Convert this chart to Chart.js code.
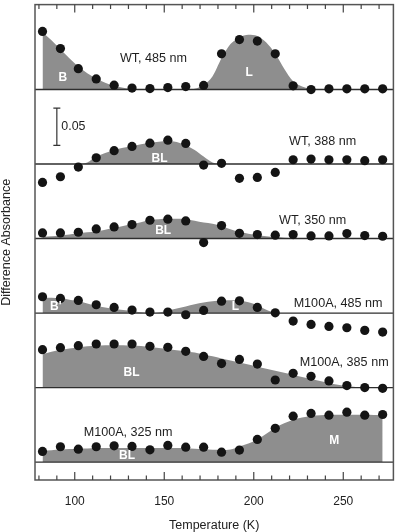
<!DOCTYPE html>
<html>
<head>
<meta charset="utf-8">
<script src="https://cdn.jsdelivr.net/npm/chart.js@4"></script>
<style>
html,body{margin:0;padding:0;background:#fff;}
#wrap{width:398px;height:532px;position:relative;}
</style>
</head>
<body>
<div id="wrap"><canvas id="c"></canvas></div>
<script>
// ---- data ----
const temps = [82, 92, 102, 112, 122, 132, 142, 152, 162, 172, 182, 192, 202, 212, 222, 232, 242, 252, 262, 272];
const seriesNames = ['WT, 485 nm', 'WT, 388 nm', 'WT, 350 nm', 'M100A, 485 nm', 'M100A, 385 nm', 'M100A, 325 nm'];
const offsets = [0.5, 0.4, 0.3, 0.2, 0.1, 0];

const wt485 = [0.078, 0.055, 0.028, 0.0143, 0.0058, 0.002, 0.0013, 0.0027, 0.004, 0.0055, 0.048, 0.067, 0.065, 0.048, 0.005, 0.0, 0.001, 0.001, 0.001, 0.001];
const wt388 = [-0.0246, -0.017, -0.004, 0.0085, 0.0179, 0.0237, 0.028, 0.032, 0.0277, -0.0013, 0.001, -0.0192, -0.0179, -0.0112, 0.0058, 0.0067, 0.0058, 0.0058, 0.0045, 0.0058];
const wt350 = [0.0076, 0.0076, 0.0085, 0.013, 0.0156, 0.0188, 0.0246, 0.026, 0.0237, -0.0054, 0.0174, 0.0071, 0.0054, 0.0045, 0.0054, 0.0036, 0.0036, 0.0067, 0.004, 0.0031];
const m485 = [0.0219, 0.0197, 0.017, 0.0112, 0.0076, 0.004, 0.0013, 0.0013, -0.0022, 0.0036, 0.016, 0.0165, 0.0076, 0.0004, -0.0107, -0.0152, -0.0179, -0.0197, -0.0232, -0.0255];
const m385 = [0.0509, 0.0536, 0.0563, 0.0585, 0.0585, 0.0585, 0.0554, 0.054, 0.0487, 0.0418, 0.0322, 0.0378, 0.0316, 0.0102, 0.0191, 0.0151, 0.009, 0.0027, 0.0, -0.001];
const m325 = [0.0143, 0.0206, 0.0174, 0.0206, 0.0219, 0.021, 0.0165, 0.0224, 0.0201, 0.0201, 0.0134, 0.0161, 0.0304, 0.0453, 0.0617, 0.0653, 0.063, 0.067, 0.063, 0.0639];

// fitted (shaded) curves, sampled every 5 K
const curveTemps = [82, 87, 92, 97, 102, 107, 112, 117, 122, 127, 132, 137, 142, 147, 152, 157, 162, 167, 172, 177, 182, 187, 192, 197, 202, 207, 212, 217, 222, 227, 232, 237, 242, 247, 252, 257, 262, 267, 272];
const fitWt485 = [0.077, 0.066, 0.054, 0.042, 0.031, 0.022, 0.015, 0.009, 0.005, 0.0025, 0.001, 0.0003, 0, 0, 0, 0, 0, 0.001, 0.006, 0.018, 0.042, 0.061, 0.070, 0.0735, 0.072, 0.063, 0.048, 0.028, 0.011, 0.004, 0.001, 0, 0, 0, 0, 0, 0, 0, 0];
const fitWt388 = [0, 0, 0, 0, 0, 0.002, 0.010, 0.015, 0.019, 0.022, 0.024, 0.0265, 0.0285, 0.030, 0.031, 0.0295, 0.025, 0.019, 0.010, 0.002, 0, 0, 0, 0, 0, 0, 0, 0, 0, 0, 0, 0, 0, 0, 0, 0, 0, 0, 0];
const fitWt350 = [0.002, 0.003, 0.004, 0.0055, 0.007, 0.0085, 0.0095, 0.012, 0.0145, 0.017, 0.0195, 0.022, 0.025, 0.026, 0.0265, 0.0265, 0.026, 0.024, 0.0215, 0.020, 0.017, 0.0125, 0.009, 0.0065, 0.0045, 0.003, 0.002, 0.0012, 0.0006, 0.0002, 0, 0, 0, 0, 0, 0, 0, 0, 0];
const fitM485 = [0.0205, 0.0205, 0.0198, 0.018, 0.016, 0.013, 0.010, 0.0075, 0.0055, 0.0042, 0.0025, 0.001, 0, 0.0008, 0.0033, 0.006, 0.0088, 0.0118, 0.0142, 0.0158, 0.0168, 0.0173, 0.0168, 0.0145, 0.0105, 0.0045, 0.0005, 0, 0, 0, 0, 0, 0, 0, 0, 0, 0, 0, 0];
const fitM385 = [0.0445, 0.048, 0.0505, 0.0525, 0.0543, 0.0555, 0.0563, 0.0568, 0.057, 0.057, 0.0565, 0.0558, 0.0545, 0.053, 0.0515, 0.050, 0.0485, 0.047, 0.0445, 0.042, 0.039, 0.0363, 0.0336, 0.031, 0.028, 0.0253, 0.0226, 0.020, 0.017, 0.0143, 0.0116, 0.0088, 0.006, 0.0038, 0.002, 0.0008, 0.0002, 0, 0];
const fitM325 = [0.0155, 0.016, 0.0168, 0.0175, 0.018, 0.0183, 0.0186, 0.0188, 0.019, 0.019, 0.019, 0.019, 0.019, 0.019, 0.019, 0.0188, 0.0185, 0.018, 0.0172, 0.0165, 0.0163, 0.017, 0.021, 0.025, 0.0305, 0.038, 0.046, 0.052, 0.057, 0.060, 0.062, 0.0628, 0.0632, 0.0634, 0.0635, 0.0635, 0.0634, 0.0633, 0.0632];

const xTickLabels = [100, 150, 200, 250];
const xMinorTicks = [80, 90, 100, 110, 120, 130, 140, 150, 160, 170, 180, 190, 200, 210, 220, 230, 240, 250, 260, 270];
const scaleBarValue = 0.05;

const pointSeries = [wt485, wt388, wt350, m485, m385, m325];
const fitSeries = [fitWt485, fitWt388, fitWt350, fitM485, fitM385, fitM325];

// annotation text (data coordinates)
const annotations = [
  {text: 'WT, 485 nm', x: 144.0, y: 0.541, white: false},
  {text: 'B', x: 93.3, y: 0.5154, white: true},
  {text: 'L', x: 197.5, y: 0.522, white: true},
  {text: 'WT, 388 nm', x: 238.5, y: 0.4299, white: false},
  {text: 'BL', x: 147.4, y: 0.4068, white: true},
  {text: 'WT, 350 nm', x: 232.9, y: 0.3248, white: false},
  {text: 'BL', x: 149.4, y: 0.3101, white: true},
  {text: 'M100A, 485 nm', x: 247.1, y: 0.2127, white: false},
  {text: "B'", x: 89.4, y: 0.2083, white: true},
  {text: 'L', x: 189.7, y: 0.2083, white: true},
  {text: 'M100A, 385 nm', x: 250.5, y: 0.1331, white: false},
  {text: 'BL', x: 131.7, y: 0.1206, white: true},
  {text: 'M100A, 325 nm', x: 129.8, y: 0.0391, white: false},
  {text: 'BL', x: 129.2, y: 0.0084, white: true},
  {text: 'M', x: 244.9, y: 0.0284, white: true}
];
const scaleBar = {x: 90, y0: 0.425, label: '0.05'};

const X_MIN = 77.8, X_MAX = 278, Y_MIN = -0.024, Y_MAX = 0.614;
const FONT = "'Liberation Sans', Arial, Helvetica, sans-serif";

// ---- datasets ----
const datasets = [];
fitSeries.forEach((fit, i) => {
  datasets.push({
    data: curveTemps.map((t, j) => ({x: t, y: offsets[i] + fit[j]})),
    showLine: true,
    borderWidth: 0,
    borderColor: 'rgba(0,0,0,0)',
    backgroundColor: '#8e8e8e',
    pointRadius: 0,
    tension: 0.4,
    cubicInterpolationMode: 'monotone',
    fill: {value: offsets[i]},
    order: 3
  });
});
offsets.forEach((off) => {
  datasets.push({
    data: [{x: X_MIN, y: off}, {x: X_MAX, y: off}],
    showLine: true,
    borderColor: '#2e2e2e',
    borderWidth: 1.4,
    pointRadius: 0,
    fill: false,
    order: 2
  });
});
pointSeries.forEach((vals, i) => {
  datasets.push({
    data: temps.map((t, j) => ({x: t, y: offsets[i] + vals[j]})),
    showLine: false,
    pointRadius: 4.6,
    pointBackgroundColor: '#141414',
    pointBorderWidth: 0,
    pointBorderColor: '#141414',
    order: 1
  });
});

const framePlugin = {
  id: 'frame',
  afterDatasetsDraw(chart) {
    const {ctx, chartArea: a, scales: {x, y}} = chart;
    ctx.save();
    // annotations
    annotations.forEach(an => {
      ctx.font = (an.white ? 'bold 12px ' : '12.6px ') + FONT;
      ctx.fillStyle = an.white ? '#ffffff' : '#1e1e1e';
      ctx.textAlign = 'center';
      ctx.textBaseline = 'middle';
      ctx.fillText(an.text, x.getPixelForValue(an.x), y.getPixelForValue(an.y));
    });
    // scale bar
    const sx = x.getPixelForValue(scaleBar.x);
    const sy0 = y.getPixelForValue(scaleBar.y0);
    const sy1 = y.getPixelForValue(scaleBar.y0 + scaleBarValue);
    ctx.strokeStyle = '#333';
    ctx.lineWidth = 1.2;
    ctx.beginPath();
    ctx.moveTo(sx, sy0); ctx.lineTo(sx, sy1);
    ctx.moveTo(sx - 3.5, sy0); ctx.lineTo(sx + 3.5, sy0);
    ctx.moveTo(sx - 3.5, sy1); ctx.lineTo(sx + 3.5, sy1);
    ctx.stroke();
    ctx.font = '12.4px ' + FONT;
    ctx.fillStyle = '#1e1e1e';
    ctx.textAlign = 'left';
    ctx.textBaseline = 'middle';
    ctx.fillText(scaleBar.label, sx + 4.5, (sy0 + sy1) / 2);
    // frame
    ctx.strokeStyle = '#555';
    ctx.lineWidth = 1.5;
    ctx.strokeRect(a.left, a.top, a.right - a.left, a.bottom - a.top);
    // inward ticks top and bottom
    ctx.lineWidth = 1.2;
    ctx.strokeStyle = '#444';
    ctx.beginPath();
    xMinorTicks.forEach(v => {
      const px = x.getPixelForValue(v);
      const len = xTickLabels.includes(v) ? 8 : 4.5;
      ctx.moveTo(px, a.bottom); ctx.lineTo(px, a.bottom - len);
      ctx.moveTo(px, a.top); ctx.lineTo(px, a.top + len);
    });
    ctx.stroke();
    ctx.restore();
  }
};

Chart.defaults.font.family = FONT;
new Chart(document.getElementById('c'), {
  type: 'scatter',
  data: {datasets},
  options: {
    responsive: true,
    maintainAspectRatio: false,
    animation: false,
    devicePixelRatio: 1,
    layout: {padding: {left: 0, top: 2, right: 2, bottom: 0}},
    plugins: {legend: {display: false}, tooltip: {enabled: false}},
    scales: {
      x: {
        type: 'linear',
        position: 'bottom',
        min: X_MIN, max: X_MAX,
        afterBuildTicks: s => { s.ticks = xTickLabels.map(v => ({value: v})); },
        afterFit: s => { s.height = 52; },
        grid: {display: false},
        border: {display: false},
        ticks: {font: {size: 12}, color: '#222', padding: 6, maxRotation: 0, autoSkip: false},
        title: {display: true, text: 'Temperature (K)', font: {size: 12.5, lineHeight: 1}, color: '#222', padding: 0}
      },
      y: {
        type: 'linear',
        min: Y_MIN, max: Y_MAX,
        afterFit: s => { s.width = 35; },
        grid: {display: false},
        border: {display: false},
        ticks: {display: false},
        title: {display: true, text: 'Difference Absorbance', font: {size: 12.5, lineHeight: 1}, color: '#222', padding: 0}
      }
    }
  },
  plugins: [framePlugin]
});
</script>
</body>
</html>
